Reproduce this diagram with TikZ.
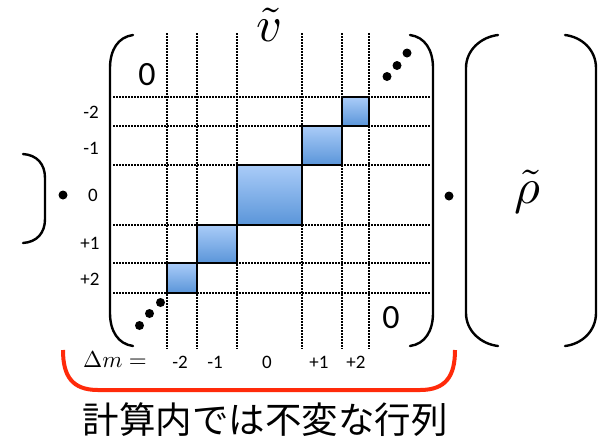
\documentclass[tikz,border=0pt]{standalone}
\usepackage{fontspec}
\setmainfont{Carlito}
\newfontfamily\cjk{Noto Sans CJK JP}
\definecolor{btop}{HTML}{AACCF8}
\definecolor{bbot}{HTML}{5A95D9}
\definecolor{bracered}{HTML}{FF2A0A}
\begin{document}
\begin{tikzpicture}[x=1pt,y=-1pt,
  brk/.style={line width=2.4pt,line cap=round},
  grid/.style={line width=1.6pt,dash pattern=on 1.6pt off 1.4pt},
  blk/.style={draw=black,line width=1.6pt,top color=btop,bottom color=bbot},
  bigdot/.style={fill=black,draw=none},
  lab/.style={font=\fontsize{19}{21}\selectfont,inner sep=0pt},
  zero/.style={font=\fontsize{34}{36}\selectfont,inner sep=0pt}]
\useasboundingbox (0,0) rectangle (604,440);
% grid
\foreach \x in {167,197,237,302,342,369}
  \draw[grid] (\x,33) -- (\x,349);
\foreach \y in {97,126,165,225,263,293}
  \draw[grid] (113,\y) -- (430,\y);
% blocks
\draw[blk] (342,97) rectangle (369,126);
\draw[blk] (302,126) rectangle (342,165);
\draw[blk] (237,165) rectangle (302,225);
\draw[blk] (197,225) rectangle (237,263);
\draw[blk] (167,263) rectangle (197,293);
% matrix brackets
\draw[brk] (133,35) .. controls (118,37) and (110,50) .. (110,68) -- (110,313) .. controls (110,331) and (118,344) .. (133,346);
\draw[brk] (410,35) .. controls (425,37) and (433,50) .. (433,68) -- (433,313) .. controls (433,331) and (425,344) .. (410,346);
\draw[brk] (498,35) .. controls (481,37) and (466,50) .. (466,68) -- (466,313) .. controls (466,331) and (481,344) .. (498,346);
\draw[brk] (565,35) .. controls (582,37) and (596,50) .. (596,68) -- (596,313) .. controls (596,331) and (582,344) .. (565,346);
\draw[brk] (23,154) .. controls (37,155) and (45,164) .. (45,178) -- (45,219) .. controls (45,233) and (37,242) .. (23,243);
% dots
\fill[bigdot] (407,53) circle (4.5) (397,65.5) circle (4.5) (387,76.5) circle (4.5);
\fill[bigdot] (160.5,302.5) circle (4.5) (149.5,313.5) circle (4.5) (139.5,325.5) circle (4.5);
\fill[bigdot] (63,195) circle (4.5);
\fill[bigdot] (449,196) circle (4.5);
% zeros
\node[zero] (z1) at (147,75) {0};
\node[zero] (z2) at (391,318) {0};
% titles
\node[inner sep=0pt] (v) at (270,25) {\scalebox{5}{$\tilde{v}$}};
\node[inner sep=0pt] (rho) at (527,192) {\scalebox{5}{$\tilde{\rho}$}};
% row labels
\node[lab] (r1) at (91,112) {-2};
\node[lab] (r2) at (91,148) {-1};
\node[lab] (r3) at (93,195) {0};
\node[lab] (r4) at (90,243) {+1};
\node[lab] (r5) at (90,279) {+2};
% column labels
\node[inner sep=0pt] (dm) at (115,360) {\scalebox{2.3}{$\Delta m =$}};
\node[lab] (c1) at (180,362) {-2};
\node[lab] (c2) at (215,362) {-1};
\node[lab] (c3) at (267,362) {0};
\node[lab] (c4) at (319,362) {+1};
\node[lab] (c5) at (356,362) {+2};
% red brace
\draw[bracered,line width=4pt] (63,350) .. controls (63,376) and (72,390) .. (98,390) -- (420,390) .. controls (446,390) and (455,376) .. (455,350);
\node[inner sep=0pt,font=\cjk\fontsize{36.5}{38}\selectfont] (cap) at (265,420) {計算内では不変な行列};
\end{tikzpicture}
\end{document}
